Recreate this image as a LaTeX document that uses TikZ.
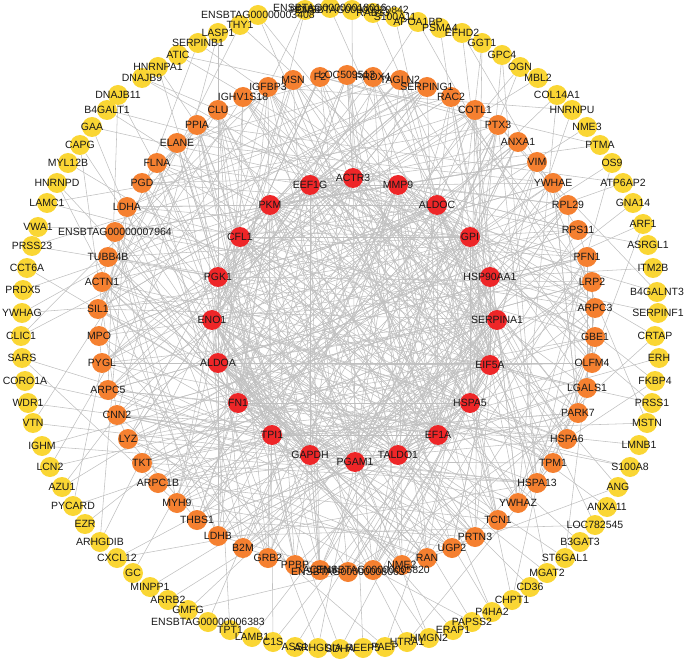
\documentclass[tikz,border=0pt]{standalone}
\usepackage{fontspec}
\setmainfont{Liberation Sans}
\pgfdeclarelayer{edges}
\pgfsetlayers{edges,main}
\definecolor{ylw}{RGB}{250,214,52}
\definecolor{org}{RGB}{245,128,48}
\definecolor{rd}{RGB}{238,38,40}
\definecolor{edgec}{RGB}{192,192,192}
\definecolor{txt}{RGB}{25,25,25}
\def\ylist{1/218/33/LASP1, 2/240/25/THY1, 3/258/15/ENSBTAG00000003408, 4/305/10/PDIA6, 5/330/8/ENSBTAG00000018016, 6/352/10/ENSBTAG00000020842, 7/373/13/RAB13, 8/395/17/S100A11, 9/418/22/APOA1BP, 10/440/28/PSMA4, 11/462/33/EFHD2, 12/482/43/GGT1, 13/502/55/GPC4, 14/520/67/OGN, 15/538/78/MBL2, 16/557/95/COL14A1, 17/572/110/HNRNPU, 18/587/127/NME3, 19/600/145/PTMA, 20/612/163/OS9, 21/623/183/ATP6AP2, 22/633/203/GNA14, 23/643/224/ARF1, 24/648/245/ASRGL1, 25/653/268/ITM2B, 26/657/292/B4GALNT3, 27/658/313/SERPINF1, 28/655/336/CRTAP, 29/659/358/ERH, 30/655/381/FKBP4, 31/652/403/PRSS1, 32/647/423/MSTN, 33/639/445/LMNB1, 34/630/467/S100A8, 35/618/487/ANG, 36/607/507/ANXA11, 37/595/525/LOC782545, 38/580/542/B3GAT3, 39/565/558/ST6GAL1, 40/547/573/MGAT2, 41/530/587/CD36, 42/512/600/CHPT1, 43/492/612/P4HA2, 44/472/622/PAPSS2, 45/453/630/ERAP1, 46/429/638/HMGN2, 47/407/642/HTRA1, 48/385/647/PAEP, 49/363/648/REEP5, 50/340/649/SDHA, 51/318/648/ARHGDIA, 52/295/647/ASS1, 53/273/642/C1S, 54/252/637/LAMB1, 55/230/630/TPT1, 56/208/622/ENSBTAG00000006383, 57/188/610/GMFG, 58/168/600/ARRB2, 59/150/587/MINPP1, 60/133/573/GC, 61/117/558/CXCL12, 62/100/542/ARHGDIB, 63/85/524/EZR, 64/73/506/PYCARD, 65/62/487/AZU1, 66/50/467/LCN2, 67/42/446/IGHM, 68/33/423/VTN, 69/28/403/WDR1, 70/25/381/CORO1A, 71/22/358/SARS, 72/21/336/CLIC1, 73/22/313/YWHAG, 74/23/290/PRDX5, 75/27/268/CCT6A, 76/32/246/PRSS23, 77/38/227/VWA1, 78/47/203/LAMC1, 79/57/183/HNRNPD, 80/68/163/MYL12B, 81/80/145/CAPG, 82/92/127/GAA, 83/107/110/B4GALT1, 84/118/95/DNAJB11, 85/142/78/DNAJB9, 86/158/67/HNRNPA1, 87/178/55/ATIC, 88/198/43/SERPINB1}
\def\olist{1/243/97/IGHV1S18, 2/268/87/IGFBP3, 3/293/80/MSN, 4/320/77/F2, 5/347/75/LOC509513, 6/373/77/PRDX4, 7/400/80/TAGLN2, 8/427/87/SERPING1, 9/451/97/RAC2, 10/475/110/COTL1, 11/498/125/PTX3, 12/518/142/ANXA1, 13/537/162/VIM, 14/553/183/YWHAE, 15/568/205/RPL29, 16/578/230/RPS11, 17/587/257/PFN1, 18/592/282/LRP2, 19/595/308/ARPC3, 20/595/337/GBE1, 21/592/363/OLFM4, 22/587/388/LGALS1, 23/578/413/PARK7, 24/567/439/HSPA6, 25/553/463/TPM1, 26/537/483/HSPA13, 27/518/503/YWHAZ, 28/498/520/TCN1, 29/475/537/PRTN3, 30/452/548/UGP2, 31/427/558/RAN, 32/402/565/NME2, 33/373/570/ENSBTAG00000005820, 34/348/572/ENSBTAG00000008063, 35/320/570/ACTN4, 36/295/565/PPBP, 37/268/558/GRB2, 38/243/548/B2M, 39/218/536/LDHB, 40/197/520/THBS1, 41/177/503/MYH9, 42/158/483/ARPC1B, 43/142/463/TKT, 44/128/439/LYZ, 45/117/415/CNN2, 46/108/390/ARPC5, 47/102/363/PYGL, 48/99/336/MPO, 49/98/309/SIL1, 50/102/282/ACTN1, 51/108/257/TUBB4B, 52/115/232/ENSBTAG00000007964, 53/127/207/LDHA, 54/142/183/PGD, 55/157/163/FLNA, 56/177/143/ELANE, 57/197/125/PPIA, 58/218/110/CLU}
\def\rlist{1/353/178/ACTR3, 2/398/185/MMP9, 3/437/205/ALDOC, 4/470/237/GPI, 5/490/277/HSP90AA1, 6/497/320/SERPINA1, 7/490/365/EIF5A, 8/470/403/HSPA5, 9/438/435/EF1A, 10/398/455/TALDO1, 11/355/462/PGAM1, 12/310/455/GAPDH, 13/272/435/TPI1, 14/238/403/FN1, 15/218/363/ALDOA, 16/212/320/ENO1, 17/218/277/PGK1, 18/240/237/CFL1, 19/270/205/PKM, 20/310/185/EEF1G}
\begin{document}
\begin{tikzpicture}[x=1pt,y=-1pt,
  gnode/.style={circle,draw=none,minimum size=20pt,inner sep=0pt},
  ynode/.style={gnode,fill=ylw},
  onode/.style={gnode,fill=org},
  rnode/.style={gnode,fill=rd},
  lbl/.style={inner sep=0pt,font=\fontsize{10.5}{12}\selectfont,text=txt},
  edge/.style={draw=edgec,line width=0.55pt}]
\useasboundingbox (0,0) rectangle (685,660);
\foreach \n/\x/\y/\t in \ylist {\node[ynode] (y\n) at (\x,\y) {};}
\foreach \n/\x/\y/\t in \olist {\node[onode] (o\n) at (\x,\y) {};}
\foreach \n/\x/\y/\t in \rlist {\node[rnode] (r\n) at (\x,\y) {};}
\foreach \n/\x/\y/\t in \ylist {\node[lbl] (ly\n) at (y\n) {\t};}
\foreach \n/\x/\y/\t in \olist {\node[lbl] (lo\n) at (o\n) {\t};}
\foreach \n/\x/\y/\t in \rlist {\node[lbl] (lr\n) at (r\n) {\t};}
\pgfmathsetseed{12345}
\begin{pgfonlayer}{edges}
\foreach \i in {1,...,19}{
  \pgfmathtruncatemacro\ii{\i+1}
  \foreach \j in {\ii,...,20}{
    \pgfmathtruncatemacro\ok{rnd<0.6}
    \ifnum\ok=1 \draw[edge] (r\i) -- (r\j);\fi
  }
}
\foreach \i in {1,...,58}{
  \foreach \k in {1,...,5}{
    \pgfmathrandominteger{\a}{1}{20}
    \draw[edge] (o\i) -- (r\a);
  }
  \foreach \k in {1,2}{
    \pgfmathrandominteger{\b}{1}{58}
    \ifnum\b=\i\else\draw[edge] (o\i) -- (o\b);\fi
  }
}
\foreach \i in {1,...,88}{
  \pgfmathrandominteger{\a}{1}{20}
  \draw[edge] (y\i) -- (r\a);
  \pgfmathtruncatemacro\ok{rnd<0.55}
  \ifnum\ok=1 \pgfmathrandominteger{\b}{1}{58}\draw[edge] (y\i) -- (o\b);\fi
}
\end{pgfonlayer}
\end{tikzpicture}
\end{document}
